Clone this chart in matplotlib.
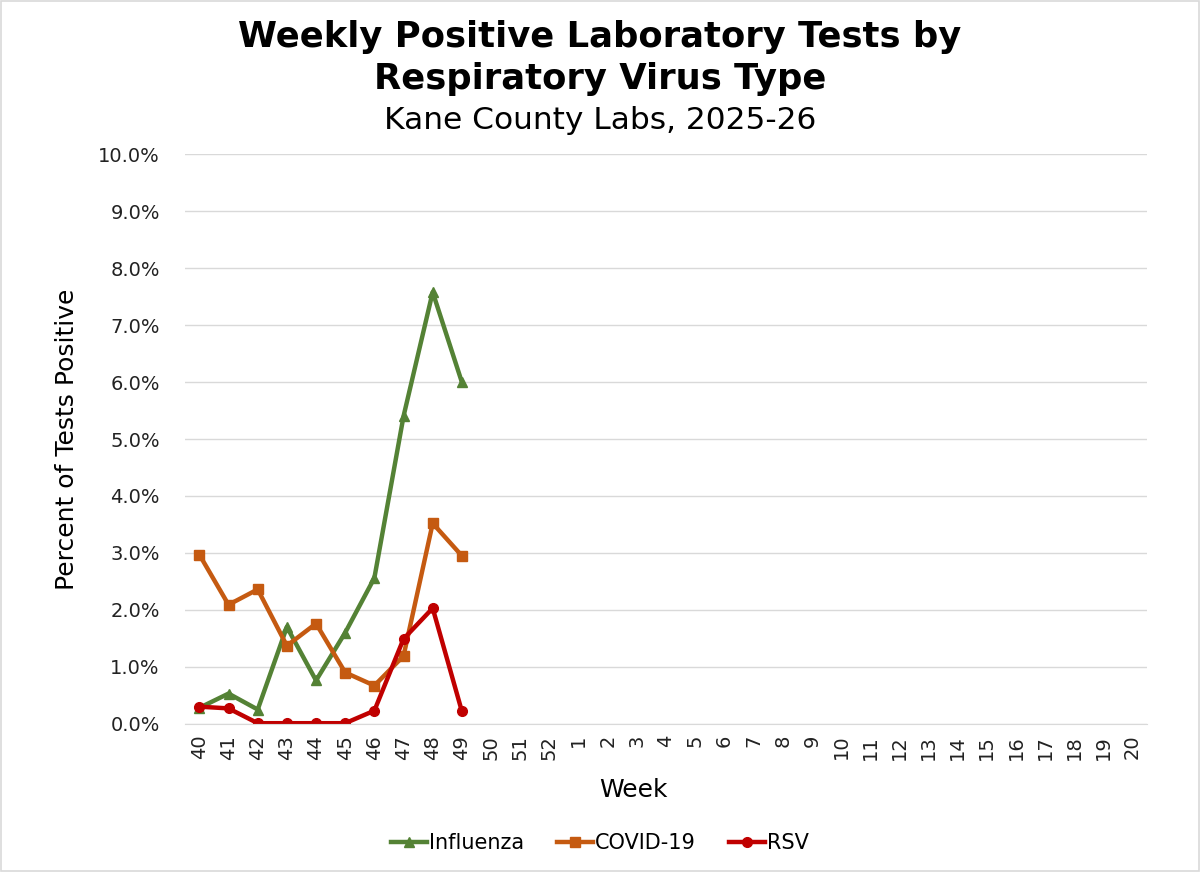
import matplotlib.pyplot as plt
import numpy as np
from matplotlib.ticker import PercentFormatter

weeks = [str(w) for w in range(40, 53)] + [str(w) for w in range(1, 21)]
influenza = [0.28, 0.53, 0.25, 1.70, 0.76, 1.60, 2.56, 5.40, 7.58, 6.00]
covid = [2.97, 2.09, 2.36, 1.37, 1.76, 0.90, 0.67, 1.19, 3.52, 2.95]
rsv = [0.30, 0.27, 0.01, 0.01, 0.01, 0.01, 0.23, 1.49, 2.03, 0.22]

fig = plt.figure(figsize=(12, 8.72), dpi=100)
ax = fig.add_axes([0.154, 0.170, 0.802, 0.653])

x = np.arange(len(weeks))
n = len(influenza)
ax.plot(x[:n], influenza, color='#548235', linewidth=3.2, marker='^', markersize=7, label='Influenza')
ax.plot(x[:n], covid, color='#C55A11', linewidth=3.2, marker='s', markersize=6.5, label='COVID-19')
ax.plot(x[:n], rsv, color='#C00000', linewidth=3.2, marker='o', markersize=7, label='RSV')

ax.set_xlim(-0.5, len(weeks) - 0.5)
ax.set_ylim(0, 10)
ax.set_yticks(np.arange(0, 10.01, 1))
ax.yaxis.set_major_formatter(PercentFormatter(decimals=1))
ax.set_xticks(x)
ax.set_xticklabels(weeks, rotation=90)
ax.tick_params(axis='both', length=0, labelsize=14, colors='#222222')
ax.tick_params(axis='y', pad=18)
ax.tick_params(axis='x', pad=8)
ax.grid(axis='y', color='#d9d9d9', linewidth=1)
ax.set_axisbelow(True)
for s in ['top', 'right', 'left']:
    ax.spines[s].set_visible(False)
ax.spines['bottom'].set_color('#d9d9d9')

ax.set_xlabel('Week', fontsize=18)
ax.xaxis.set_label_coords(0.466, -0.096)
ax.set_ylabel('Percent of Tests Positive', fontsize=18, labelpad=14)

fig.text(0.5, 0.957, 'Weekly Positive Laboratory Tests by', ha='center', va='center',
         fontsize=25.5, fontweight='bold')
fig.text(0.5, 0.909, 'Respiratory Virus Type', ha='center', va='center',
         fontsize=25.5, fontweight='bold')
fig.text(0.5, 0.862, 'Kane County Labs, 2025-26', ha='center', va='center', fontsize=22.5)

fig.legend(loc='center', bbox_to_anchor=(0.5, 0.033), ncol=3, frameon=False,
           fontsize=15, handlelength=1.7, handletextpad=0.1, columnspacing=1.6)

fig.patches.append(plt.Rectangle((0.001, 0.001), 0.998, 0.998, transform=fig.transFigure,
                                 fill=False, edgecolor='#d9d9d9', linewidth=1.2))

fig.savefig('out.png', dpi=100)
